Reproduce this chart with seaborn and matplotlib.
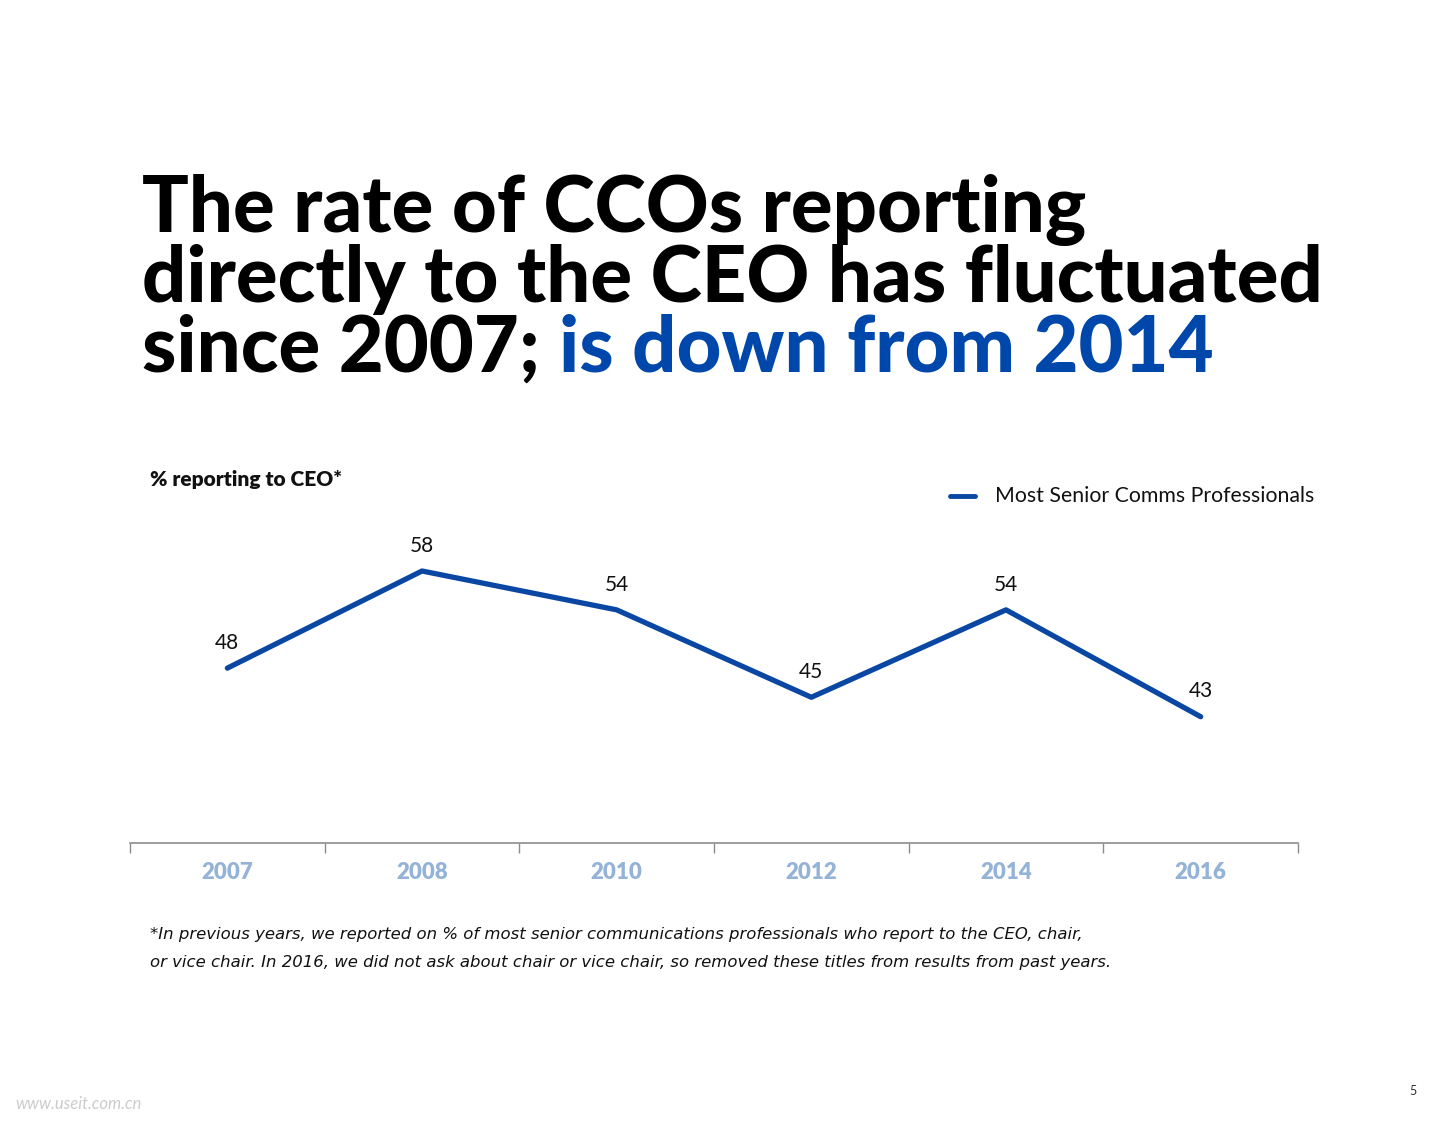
import matplotlib
matplotlib.use("Agg")
import matplotlib.pyplot as plt
import numpy as np
import pandas as pd
import seaborn as sns

years = ["2007", "2008", "2010", "2012", "2014", "2016"]
pct_ceo = [48, 58, 54, 45, 54, 43]
series_name = "Most Senior Comms Professionals"

line_blue = "#0A47A3"
year_blue = "#95B3D7"

sns.set_theme(style="white")
plt.rcParams['font.family'] = ['Lato', 'DejaVu Sans']

df = pd.DataFrame({"pos": np.arange(len(years)), "pct": pct_ceo})

fig = plt.figure(figsize=(14.52, 11.22), dpi=100)
ax = fig.add_axes([130 / 1452, 1 - 843 / 1122, 1168 / 1452, 340 / 1122])

sns.lineplot(data=df, x="pos", y="pct", ax=ax, color=line_blue, linewidth=3.8,
             solid_capstyle="round", legend=False)

# value labels above points
for x, v in zip(df["pos"], df["pct"]):
    ax.annotate(str(v), (x, v), xytext=(0, 11), textcoords="offset points",
                ha="center", va="bottom", fontsize=15, color="#111111")

ax.set_xlim(-0.5, len(years) - 0.5)
ax.set_ylim(30, 65)
ax.set_xlabel("")
ax.set_ylabel("")
ax.set_yticks([])
ax.set_xticks(np.arange(len(years)))
ax.set_xticklabels(years, fontsize=16, fontweight="heavy", color=year_blue)
ax.set_xticks(np.arange(-0.5, len(years)), minor=True)
ax.tick_params(axis="x", which="major", length=0, pad=14)
ax.tick_params(axis="x", which="minor", length=7, width=1, color="#8c8c8c",
               direction="out", bottom=True)
for side in ["top", "left", "right"]:
    ax.spines[side].set_visible(False)
ax.spines["bottom"].set_color("#8c8c8c")
ax.spines["bottom"].set_linewidth(1.2)
ax.patch.set_alpha(0)

# legend
fig.add_artist(plt.Line2D([950 / 1452, 975 / 1452], [1 - 496 / 1122] * 2,
                          color=line_blue, linewidth=3.5))
fig.text(995 / 1452, 1 - 496 / 1122, series_name, fontsize=15.3, va="center",
         ha="left", color="#111111")

# y label
fig.text(150 / 1452, 1 - 479 / 1122, "% reporting to CEO*", fontsize=15,
         fontweight="heavy", va="center", ha="left", color="#111111")

# title
title_kw = dict(fontsize=56, fontweight="black", ha="left", va="baseline")
fig.text(142 / 1452, 1 - 232 / 1122, "The rate of CCOs reporting",
         color="black", **title_kw)
fig.text(142 / 1452, 1 - 302 / 1122, "directly to the CEO has fluctuated",
         color="black", **title_kw)
t1 = fig.text(142 / 1452, 1 - 372 / 1122, "since 2007; ", color="black", **title_kw)
fig.canvas.draw()
bb = t1.get_window_extent(renderer=fig.canvas.get_renderer())
fig.text(bb.x1 / fig.bbox.width, 1 - 372 / 1122, "is down from 2014",
         color="#0047AB", **title_kw)

# footnote
foot = ["*In previous years, we reported on % of most senior communications professionals who report to the CEO, chair,",
        "or vice chair. In 2016, we did not ask about chair or vice chair, so removed these titles from results from past years."]
fig.text(150 / 1452, 1 - 935 / 1122, foot[0], fontsize=11.85, style="italic",
         va="center", ha="left", color="#111111", family="DejaVu Sans")
fig.text(150 / 1452, 1 - 962 / 1122, foot[1], fontsize=11.85, style="italic",
         va="center", ha="left", color="#111111", family="DejaVu Sans")

fig.text(1413 / 1452, 1 - 1091 / 1122, "5", fontsize=9, ha="center",
         va="center", color="#333333")
fig.text(15 / 1452, 1 - 1104 / 1122, "www.useit.com.cn", fontsize=12,
         ha="left", va="center", color="#cccccc", style="italic")

fig.savefig("out.png", dpi=100)
